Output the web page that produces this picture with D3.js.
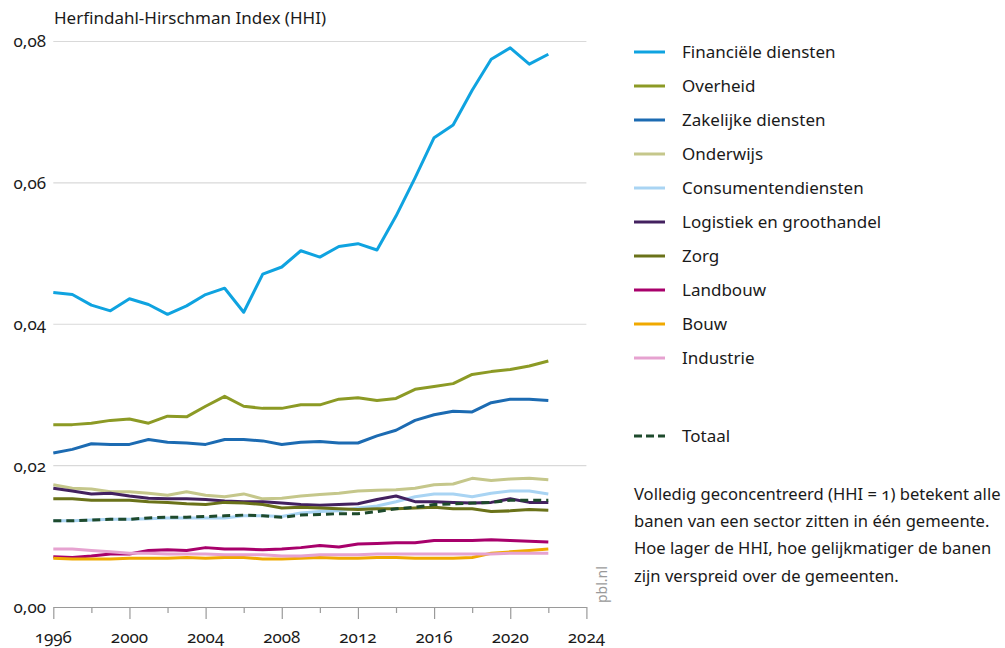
<!DOCTYPE html>
<html><head><meta charset="utf-8">
<script src="https://cdn.jsdelivr.net/npm/d3@7"></script>
<style>
body{margin:0;background:#fff;}
svg text{font-family:"Noto Sans",sans-serif;fill:#1a1a1a;font-variant-numeric:oldstyle-nums;}
</style></head><body>
<svg id="c" width="1005" height="648"></svg>
<script>
const years = d3.range(1996, 2023);
const seriesNames = ["Financiële diensten","Overheid","Zakelijke diensten","Onderwijs","Consumentendiensten","Logistiek en groothandel","Zorg","Landbouw","Bouw","Industrie"];
const financiele = [0.0445,0.0442,0.0427,0.0419,0.0436,0.0428,0.0414,0.0426,0.0442,0.0451,0.0417,0.0471,0.0481,0.0504,0.0495,0.0510,0.0514,0.0505,0.0553,0.0607,0.0664,0.0682,0.0731,0.0775,0.0791,0.0768,0.0782];
const overheid = [0.0258,0.0258,0.0260,0.0264,0.0266,0.0260,0.0270,0.0269,0.0284,0.0298,0.0284,0.0281,0.0281,0.0286,0.0286,0.0294,0.0296,0.0292,0.0295,0.0308,0.0312,0.0316,0.0329,0.0333,0.0336,0.0341,0.0348];
const zakelijke = [0.0218,0.0223,0.0231,0.0230,0.0230,0.0237,0.0233,0.0232,0.0230,0.0237,0.0237,0.0235,0.0230,0.0233,0.0234,0.0232,0.0232,0.0242,0.0250,0.0264,0.0272,0.0277,0.0276,0.0289,0.0294,0.0294,0.0292];
const onderwijs = [0.0173,0.0168,0.0167,0.0163,0.0163,0.0161,0.0158,0.0163,0.0158,0.0156,0.0160,0.0153,0.0154,0.0157,0.0159,0.0161,0.0164,0.0165,0.0166,0.0168,0.0173,0.0174,0.0182,0.0179,0.0181,0.0182,0.0180];
const consumenten = [0.0122,0.0122,0.0123,0.0124,0.0124,0.0125,0.0126,0.0126,0.0126,0.0126,0.0129,0.0129,0.0128,0.0133,0.0135,0.0136,0.0140,0.0143,0.0149,0.0156,0.0160,0.0160,0.0156,0.0161,0.0164,0.0164,0.0160];
const logistiek = [0.0168,0.0164,0.0160,0.0161,0.0157,0.0154,0.0153,0.0153,0.0152,0.0150,0.0149,0.0149,0.0147,0.0145,0.0144,0.0145,0.0146,0.0152,0.0157,0.0149,0.0149,0.0148,0.0147,0.0148,0.0153,0.0148,0.0148];
const zorg = [0.0153,0.0153,0.0151,0.0151,0.0151,0.0149,0.0148,0.0146,0.0145,0.0148,0.0147,0.0145,0.0140,0.0141,0.0140,0.0139,0.0138,0.0139,0.0139,0.0140,0.0141,0.0139,0.0139,0.0135,0.0136,0.0138,0.0137];
const landbouw = [0.0071,0.0070,0.0072,0.0075,0.0075,0.0080,0.0081,0.0080,0.0084,0.0082,0.0082,0.0081,0.0082,0.0084,0.0087,0.0085,0.0089,0.0090,0.0091,0.0091,0.0094,0.0094,0.0094,0.0095,0.0094,0.0093,0.0092];
const bouw = [0.0069,0.0068,0.0068,0.0068,0.0069,0.0069,0.0069,0.0070,0.0069,0.0070,0.0070,0.0068,0.0068,0.0069,0.0070,0.0069,0.0069,0.0070,0.0070,0.0069,0.0069,0.0069,0.0070,0.0076,0.0078,0.0080,0.0082];
const industrie = [0.0082,0.0082,0.0080,0.0078,0.0076,0.0076,0.0075,0.0075,0.0075,0.0074,0.0074,0.0074,0.0072,0.0072,0.0074,0.0074,0.0074,0.0075,0.0075,0.0075,0.0075,0.0075,0.0075,0.0075,0.0076,0.0076,0.0076];
const totaal = [0.0122,0.0122,0.0123,0.0124,0.0124,0.0126,0.0127,0.0127,0.0128,0.0129,0.0130,0.0129,0.0127,0.0130,0.0131,0.0132,0.0132,0.0135,0.0139,0.0141,0.0145,0.0146,0.0147,0.0148,0.0151,0.0151,0.0151];
const totaalName = "Totaal";
const yTicks = [0, 0.02, 0.04, 0.06, 0.08];
const xTicks = [1996, 2000, 2004, 2008, 2012, 2016, 2020, 2024];
const yTitle = "Herfindahl-Hirschman Index (HHI)";
const noteLines = ["Volledig geconcentreerd (HHI = 1) betekent alle","banen van een sector zitten in één gemeente.","Hoe lager de HHI, hoe gelijkmatiger de banen","zijn verspreid over de gemeenten."];
const colors = ["#0fa3e0","#8c9a25","#1c6bb2","#c5c78b","#a9d4f3","#43215f","#6a7219","#a8006b","#f0a900","#e6a2d0"];
const totaalColor = "#1e4a2c";

const seriesValues = [financiele,overheid,zakelijke,onderwijs,consumenten,logistiek,zorg,landbouw,bouw,industrie];
const svg = d3.select("#c");
const x = d3.scaleLinear().domain([1996, 2024]).range([53.3, 586.4]);
const y = d3.scaleLinear().domain([0, 0.08]).range([607, 41.5]);
const loc = d3.formatLocale({decimal:",", thousands:".", grouping:[3], currency:["€",""]});
const fmt = loc.format(".2f");

// gridlines
svg.append("g").selectAll("line").data(yTicks.filter(d=>d>0)).join("line")
  .attr("x1", x(1996)).attr("x2", x(2024))
  .attr("y1", d=>y(d)).attr("y2", d=>y(d))
  .attr("stroke","#d9d9d9").attr("stroke-width",1.2);

// y labels
svg.append("g").selectAll("text").data(yTicks).join("text")
  .attr("x", 46).attr("y", d=>y(d)).attr("dy","0.35em")
  .attr("text-anchor","end").attr("font-size",17).text(d=>fmt(d));

// x axis
const xAxis = d3.axisBottom(x).tickValues(d3.range(1996,2025,2)).tickSize(0).tickFormat("");
const gx = svg.append("g").attr("transform",`translate(0,${y(0)})`).call(xAxis);
gx.select(".domain").attr("stroke","#9a9a9a").attr("stroke-width",1.2);
gx.selectAll(".tick line").attr("stroke","#9a9a9a").attr("stroke-width",1.2)
  .attr("y2", d => (d % 4 === 0) ? 12 : 6);
svg.append("g").selectAll("text").data(xTicks).join("text")
  .attr("x", d=>x(d)).attr("y", 637).attr("dy","0.35em")
  .attr("text-anchor","middle").attr("font-size",17).text(d=>d);

// title
svg.append("text").attr("x",54).attr("y",18).attr("dy","0.35em").attr("font-size",17).text(yTitle);

// lines
const line = d3.line().x((d,i)=>x(years[i])).y(d=>y(d));
svg.append("g").selectAll("path").data(seriesValues).join("path")
  .attr("d", d=>line(d)).attr("fill","none")
  .attr("stroke",(d,i)=>colors[i]).attr("stroke-width",3)
  .attr("stroke-linejoin","round");
svg.append("path").attr("d", line(totaal)).attr("fill","none")
  .attr("stroke", totaalColor).attr("stroke-width",3).attr("stroke-dasharray","8,5");

// pbl.nl
svg.append("text").attr("transform",`translate(607,${y(0)-4}) rotate(-90)`)
  .attr("font-size",14).style("fill","#999").text("pbl.nl");

// legend
const legY = [52,86,120,154,188,222,256,290,324,358];
const lg = svg.append("g");
seriesNames.forEach((n,i)=>{
  lg.append("line").attr("x1",634).attr("x2",665).attr("y1",legY[i]).attr("y2",legY[i])
    .attr("stroke",colors[i]).attr("stroke-width",3);
  lg.append("text").attr("x",682).attr("y",legY[i]).attr("dy","0.35em").attr("font-size",17).text(n);
});
lg.append("line").attr("x1",634).attr("x2",665).attr("y1",436).attr("y2",436)
  .attr("stroke",totaalColor).attr("stroke-width",3).attr("stroke-dasharray","8,4");
lg.append("text").attr("x",682).attr("y",436).attr("dy","0.35em").attr("font-size",17).text(totaalName);

// note
const note = svg.append("g").selectAll("text").data(noteLines).join("text")
  .attr("x",634).attr("y",(d,i)=>494+i*27.3).attr("dy","0.35em").attr("font-size",17).text(d=>d);
// shrink note font so the widest line fits the space right of the legend
const maxW = d3.max(note.nodes(), n => n.getComputedTextLength());
const avail = 1001 - 634;
if (maxW > avail) note.attr("font-size", 17 * avail / maxW);
</script></body></html>
